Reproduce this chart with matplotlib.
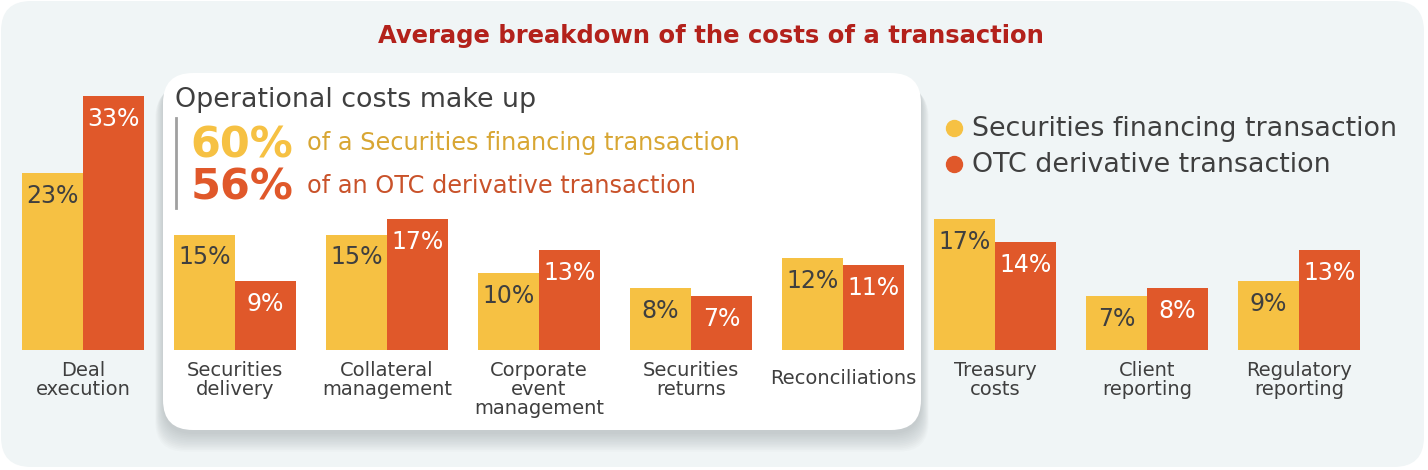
import matplotlib
matplotlib.use("Agg")
import matplotlib.pyplot as plt
from matplotlib.patches import FancyBboxPatch
from matplotlib.transforms import Affine2D

categories = ["Deal\nexecution", "Securities\ndelivery", "Collateral\nmanagement",
              "Corporate\nevent\nmanagement", "Securities\nreturns", "Reconciliations",
              "Treasury\ncosts", "Client\nreporting", "Regulatory\nreporting"]
sft = [23, 15, 15, 10, 8, 12, 17, 7, 9]
otc = [33, 9, 17, 13, 7, 11, 14, 8, 13]
series_names = ["Securities financing transaction", "OTC derivative transaction"]
ops_share = ["60%", "56%"]
ops_text = ["of a Securities financing transaction", "of an OTC derivative transaction"]

YELLOW = "#F6C143"
ORANGE = "#E0582A"
GREY = "#3f3f3f"
W, H = 1428, 470

fig = plt.figure(figsize=(W / 100, H / 100), dpi=100)
fig.patch.set_facecolor("white")
ax = fig.add_axes([0, 0, 1, 1])
ax.set_facecolor("none")
ax.axis("off")

# pixel coordinates, y pointing down
px = Affine2D().scale(1, -1).translate(0, H).scale(1 / W, 1 / H) + fig.transFigure

# scales: group pitch 152px, first group centre at 83px, baseline at 350px, 7.7px per %
ax.set_xlim(-83 / 152, (W - 83) / 152)
ax.set_ylim(-(H - 350) / 7.7, 350 / 7.7)

# outer panel
ax.add_patch(FancyBboxPatch((1, 1), W - 5, H - 4, boxstyle="round,pad=0,rounding_size=30",
                            fc="#F0F5F6", ec="none", transform=px, zorder=0, clip_on=False))
# shadow + white box
for k in range(12):
    ax.add_patch(FancyBboxPatch((163 - k * 0.7, 73 + 4 + k * 1.0), 758 + k * 1.4, 357 + k * 0.6,
                                boxstyle="round,pad=0,rounding_size=30",
                                fc="#8e989b", ec="none", alpha=0.04, transform=px,
                                zorder=0.3, clip_on=False))
ax.add_patch(FancyBboxPatch((163, 73), 758, 357, boxstyle="round,pad=0,rounding_size=30",
                            fc="white", ec="none", transform=px, zorder=0.5, clip_on=False))

x = list(range(len(categories)))
bw = 61 / 152
b1 = ax.bar([i - bw / 2 for i in x], sft, width=bw, color=YELLOW, zorder=2)
b2 = ax.bar([i + bw / 2 for i in x], otc, width=bw, color=ORANGE, zorder=2)

for bars, vals, col in [(b1, sft, GREY), (b2, otc, "white")]:
    for r, v in zip(bars, vals):
        ax.annotate(f"{v}%", (r.get_x() + r.get_width() / 2, v), xytext=(0, -30),
                    textcoords="offset pixels", ha="center", va="baseline",
                    fontsize=17, color=col, zorder=3)

for i, lab in enumerate(categories):
    n = lab.count("\n") + 1
    if n == 1:
        ax.text(i, 1 - 379 / H, lab, transform=ax.get_xaxis_transform(), ha="center",
                va="center", fontsize=14, color=GREY, linespacing=1.0)
    else:
        ax.text(i, 1 - 361 / H, lab, transform=ax.get_xaxis_transform(), ha="center",
                va="top", fontsize=14, color=GREY, linespacing=1.0)

# title
ax.text(711, 43, "Average breakdown of the costs of a transaction", transform=px,
        ha="center", va="baseline", fontsize=17.5, fontweight="bold", color="#B3211B")

# box text
ax.text(175, 107, "Operational costs make up", transform=px, ha="left", va="baseline",
        fontsize=19.4, color=GREY, zorder=3)
ax.plot([176, 176], [118, 208], color="#a0a0a0", lw=2, transform=px, zorder=3)
share_cols = [YELLOW, ORANGE]
text_cols = ["#D8A633", "#C9522A"]
for j, (s, t) in enumerate(zip(ops_share, ops_text)):
    yb = [157, 200][j]
    ax.text(293, yb, s, transform=px, ha="right", va="baseline", fontsize=31,
            fontweight="bold", color=share_cols[j], zorder=3)
    ax.text(307, yb - 7, t, transform=px, ha="left", va="baseline", fontsize=17.3,
            color=text_cols[j], zorder=3)

# legend
for j, name in enumerate(series_names):
    yc = [128, 164][j]
    ax.plot([954], [yc], marker="o", ms=11.5, color=share_cols[j], transform=px, zorder=3)
    ax.text(972, yc + 8, name, transform=px, ha="left", va="baseline", fontsize=19.4,
            color=GREY, zorder=3)

fig.savefig("out.png", dpi=100)
